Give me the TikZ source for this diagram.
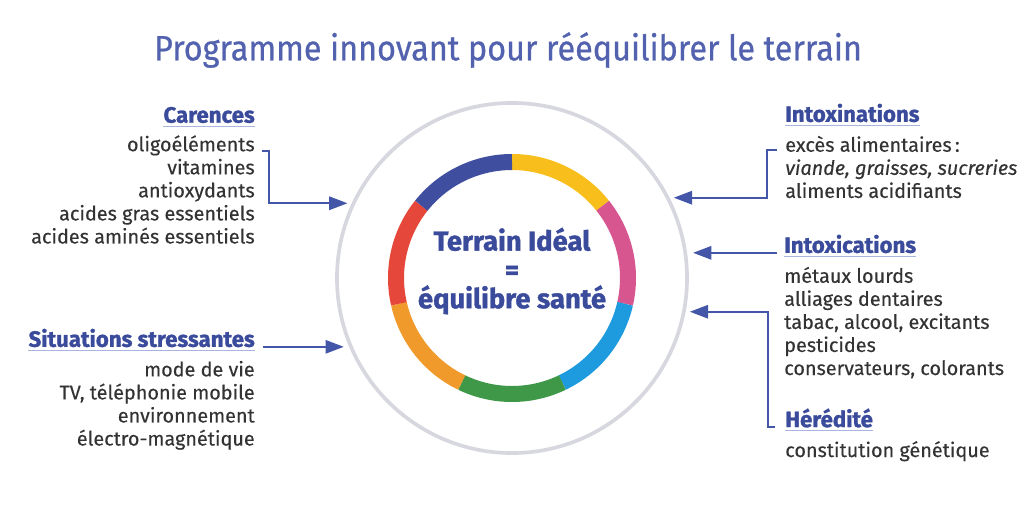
\documentclass[tikz,border=0pt]{standalone}
\usepackage{fontspec}
\setmainfont{Fira Sans}[FakeBold=0.3,BoldFeatures={FakeBold=1.3}]
\newfontfamily\titlefont{Fira Sans}[FakeStretch=0.92,FakeBold=0.6]
\usetikzlibrary{positioning,arrows.meta}
\definecolor{titleblue}{HTML}{5262AE}
\definecolor{headblue}{HTML}{3B4B9C}
\definecolor{lineblue}{HTML}{AAB5DF}
\definecolor{arrowblue}{HTML}{4356A8}
\definecolor{textgray}{HTML}{333333}
\definecolor{rimgray}{HTML}{D6D7DF}
\definecolor{segnavy}{HTML}{3F4E9E}
\definecolor{segyellow}{HTML}{F8BF1C}
\definecolor{segpink}{HTML}{D85690}
\definecolor{segblue}{HTML}{1E9BDF}
\definecolor{seggreen}{HTML}{3E9847}
\definecolor{segorange}{HTML}{F09A2B}
\definecolor{segred}{HTML}{E6473B}
\begin{document}
\begin{tikzpicture}[
x=0.025cm, y=0.025cm,
headnode/.style={
  inner xsep=0pt,
  text=headblue,
  font=\fontsize{15.8}{18}\selectfont\bfseries
  },
listnode/.style={
  inner sep=0pt,
  text=textgray,
  font=\fontsize{14.1}{16.4}\selectfont
  },
myarrow/.style={
  draw=arrowblue,
  line width=1.4pt,
  -{Triangle[length=13pt,width=9.5pt]},
  shorten >=3pt
  }
]
\useasboundingbox (0,0) rectangle (1024,522);
% title
\node[text=titleblue,font=\titlefont\fontsize{25}{28}\selectfont] (title) at (508,472)
  {Programme innovant pour rééquilibrer le terrain};
% disk and colour ring
\node[circle,draw=rimgray,line width=2.6pt,fill=white,minimum size=8.75cm] (disk) at (512,244) {};
\foreach \Col [count=\i from 0] in {segyellow,segpink,segblue,seggreen,segorange,segred,segnavy}
  \draw[\Col,line width=0.4cm] (disk.center) ++({90-\i*360/7}:116)
    arc[start angle={90-\i*360/7},delta angle={-360/7},radius=116];
\node[text=headblue,font=\fontsize{19.5}{20.5}\selectfont\bfseries,align=center] (ideal) at (512,251)
  {Terrain Idéal\\=\\équilibre santé};
% left side
\node[headnode,anchor=east] (car) at (255,407) {Carences};
\node[listnode,align=right,below=5pt of car.south east,anchor=north east] (carl)
  {oligoéléments\\vitamines\\antioxydants\\acides gras essentiels\\acides aminés essentiels};
\node[headnode,anchor=east] (sit) at (255,184) {Situations stressantes};
\node[listnode,align=right,below=6pt of sit.south east,anchor=north east] (sitl)
  {mode de vie\\TV, téléphonie mobile\\environnement\\électro-magnétique};
% right side
\node[headnode,anchor=west] (inx) at (785,409) {Intoxinations};
\node[listnode,align=left,below=6pt of inx.south west,anchor=north west] (inxl)
  {excès alimentaires\,:\\\textit{viande, graisses, sucreries}\\aliments acidifiants};
\node[headnode,anchor=west] (inc) at (784,278) {Intoxications};
\node[listnode,align=left,below=6pt of inc.south west,anchor=north west] (incl)
  {métaux lourds\\alliages dentaires\\tabac, alcool, excitants\\pesticides\\conservateurs, colorants};
\node[headnode,anchor=west] (her) at (785,104) {Hérédité};
\node[listnode,below=6pt of her.south west,anchor=north west] (herl) {constitution génétique};
\foreach \Head in {car,sit,inx,inc,her}
  \draw[lineblue,line width=0.8pt] ([yshift=-2.5pt]\Head.base west) -- ([yshift=-2.5pt]\Head.base east);
% arrows
\draw[myarrow] ([shift={(7,-16)}]carl.north east) -- ++(7,0) |- (disk.155);
\draw[myarrow] ([xshift=6pt]sit.base east) -- (disk.202 |- sit.base);
\draw[myarrow] ([shift={(-8,-14)}]inxl.north west) -- ++(-10,0) |- (disk.27);
\draw[myarrow] ([xshift=-5pt]inc.base west) -- (disk.east |- inc.base);
\draw[myarrow] ([xshift=-7pt]her.base west) -- ++(-7,0) |- (disk.349);
\end{tikzpicture}
\end{document}
